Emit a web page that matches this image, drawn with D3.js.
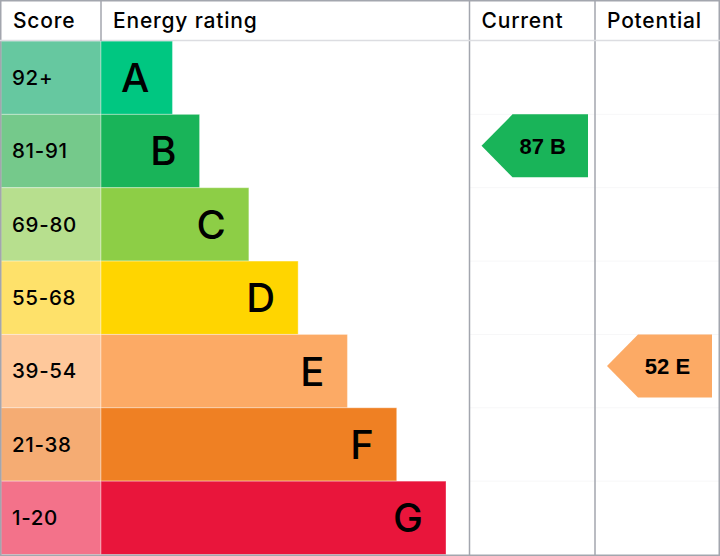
<!DOCTYPE html>
<html lang="en">
<head>
    <meta charset="UTF-8">
    <title>Energy rating</title>
    <script src="https://d3js.org/d3.v7.min.js"></script>
    <style>
        body {
            margin: 0;
            padding: 0;
            background-color: #fff;
        }
        svg {
            display: block;
            font-family: Inter, "Noto Sans", sans-serif;
        }
        .head {
            font-size: 21px;
            font-weight: 500;
            letter-spacing: 0.8px;
            fill: #000;
        }
        .score-label {
            font-size: 20.5px;
            font-weight: 500;
            letter-spacing: 0.7px;
            fill: #000;
        }
        .band-letter {
            font-size: 40px;
            font-weight: 500;
            fill: #000;
            text-anchor: end;
        }
        .arrow-label {
            font-family: "Liberation Sans", Arial, sans-serif;
            font-size: 22px;
            font-weight: bold;
            fill: #000;
            text-anchor: middle;
        }
    </style>
</head>
<body>
    <svg class="chart" width="720" height="556"></svg>

    <script>
        // Rating bands, top to bottom
        const bands = ['A', 'B', 'C', 'D', 'E', 'F', 'G'];
        const scoreRanges = ['92+', '81-91', '69-80', '55-68', '39-54', '21-38', '1-20'];
        const scoreMins = [92, 81, 69, 55, 39, 21, 1];
        // relative bar length of each band
        const barLength = [1.45, 2, 3, 4, 5, 6, 7];
        const bandColors = ['#00c781', '#19b459', '#8dce46', '#ffd500', '#fcaa65', '#ef8023', '#e9153b'];
        const scoreColors = ['#66c8a0', '#75c98b', '#b7df8e', '#fee16a', '#fec89b', '#f5ac73', '#f3728a'];

        const columns = ['Score', 'Energy rating', 'Current', 'Potential'];
        const ratingKeys = ['Current', 'Potential'];
        const ratingValues = [87, 52];

        const W = 720, H = 556;
        const headerH = 41;
        const svg = d3.select('.chart');

        // column edges
        const colX = d3.scaleOrdinal()
            .domain(columns)
            .range([1, 101, 469.5, 595]);
        const colEnd = d3.scaleOrdinal()
            .domain(columns)
            .range([101, 469.5, 595, 719]);

        const y = d3.scaleBand()
            .domain(bands)
            .range([headerH, H - 1.5]);

        const x = d3.scaleLinear()
            .domain([0, 7])
            .range([colX('Energy rating'), 446]);

        const bandOf = v => bands[scoreMins.findIndex(m => v >= m)];

        // very faint row lines across the rating columns
        svg.append('g')
            .selectAll('line')
            .data(bands.slice(1))
            .join('line')
            .attr('x1', colX('Current'))
            .attr('x2', W - 1)
            .attr('y1', d => y(d))
            .attr('y2', d => y(d))
            .attr('stroke', '#f7f7f8')
            .attr('stroke-width', 1);

        // score cells
        svg.append('g')
            .selectAll('rect')
            .data(bands)
            .join('rect')
            .attr('x', colX('Score'))
            .attr('y', d => y(d))
            .attr('width', colEnd('Score') - colX('Score'))
            .attr('height', y.bandwidth())
            .attr('fill', (d, i) => scoreColors[i])
            .attr('stroke', 'rgba(255,255,255,0.35)')
            .attr('stroke-width', 1);

        svg.append('g')
            .selectAll('text')
            .data(bands)
            .join('text')
            .attr('class', 'score-label')
            .attr('x', 12)
            .attr('y', d => y(d) + y.bandwidth() / 2)
            .attr('dy', '0.36em')
            .text((d, i) => scoreRanges[i]);

        // rating bars
        svg.append('g')
            .selectAll('rect')
            .data(bands)
            .join('rect')
            .attr('x', x(0))
            .attr('y', d => y(d))
            .attr('width', (d, i) => x(barLength[i]) - x(0))
            .attr('height', y.bandwidth())
            .attr('fill', (d, i) => bandColors[i])
            .attr('stroke', 'rgba(255,255,255,0.35)')
            .attr('stroke-width', 1);

        svg.append('g')
            .selectAll('text')
            .data(bands)
            .join('text')
            .attr('class', 'band-letter')
            .attr('x', (d, i) => x(barLength[i]) - 23)
            .attr('y', d => y(d) + y.bandwidth() / 2)
            .attr('dy', '0.36em')
            .text(d => d);

        // grid: column lines, header line, border
        const grid = svg.append('g')
            .attr('stroke', '#a3a6ae')
            .attr('stroke-width', 1.5);

        grid.selectAll('line.col')
            .data(['Current', 'Potential'])
            .join('line')
            .attr('class', 'col')
            .attr('x1', d => colX(d))
            .attr('x2', d => colX(d))
            .attr('y1', 0)
            .attr('y2', H);

        grid.append('rect')
            .attr('x', 0.75)
            .attr('y', 0.75)
            .attr('width', W - 1.5)
            .attr('height', H - 1.5)
            .attr('fill', 'none');

        svg.append('line')
            .attr('x1', 0)
            .attr('x2', W)
            .attr('y1', headerH - 0.5)
            .attr('y2', headerH - 0.5)
            .attr('stroke', '#dcdde1')
            .attr('stroke-width', 1.5);

        svg.append('line')
            .attr('x1', colX('Energy rating'))
            .attr('x2', colX('Energy rating'))
            .attr('y1', 0)
            .attr('y2', headerH)
            .attr('stroke', '#a3a6ae')
            .attr('stroke-width', 1.5);

        // header labels
        svg.append('g')
            .selectAll('text')
            .data(columns)
            .join('text')
            .attr('class', 'head')
            .attr('x', d => colX(d) + 12)
            .attr('y', 28)
            .text(d => d);

        // current / potential arrows
        const arrowH = 63, tip = 31;
        const arrows = svg.append('g')
            .selectAll('g')
            .data(ratingKeys.map((k, i) => ({ key: k, value: ratingValues[i], band: bandOf(ratingValues[i]) })))
            .join('g');

        arrows.append('path')
            .attr('d', d => {
                const x0 = colX(d.key) + 12, x1 = colEnd(d.key) - 7;
                const y0 = y(d.band), y1 = y0 + arrowH;
                return d3.line()([
                    [x0, (y0 + y1) / 2], [x0 + tip, y0], [x1, y0], [x1, y1], [x0 + tip, y1]
                ]) + 'Z';
            })
            .attr('fill', d => bandColors[bands.indexOf(d.band)]);

        arrows.append('text')
            .attr('class', 'arrow-label')
            .attr('x', d => (colX(d.key) + 12 + colEnd(d.key) - 7) / 2 + 8)
            .attr('y', d => y(d.band) + arrowH / 2)
            .attr('dy', '0.36em')
            .text(d => d.value + ' ' + d.band);
    </script>
</body>
</html>
